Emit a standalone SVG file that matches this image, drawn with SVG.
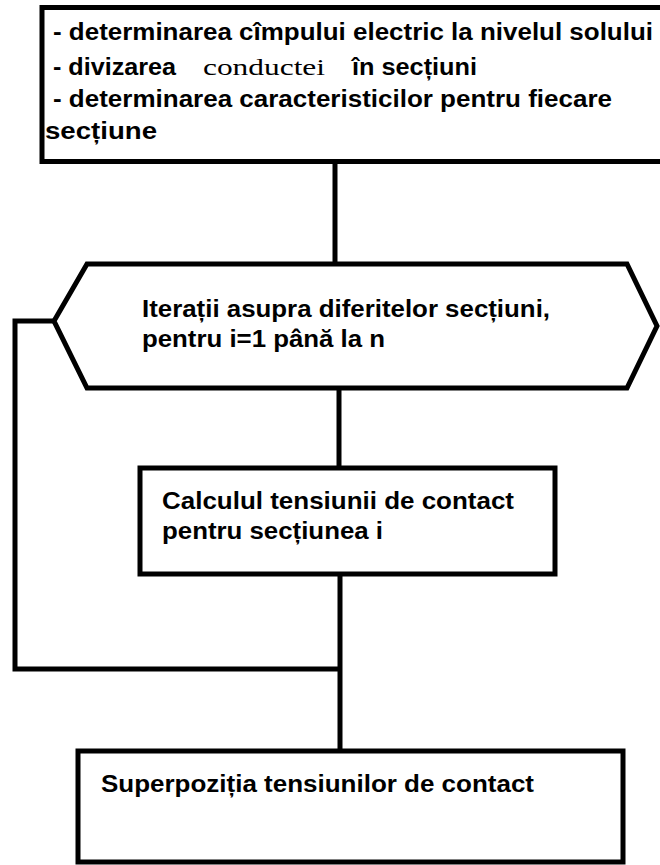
<svg xmlns="http://www.w3.org/2000/svg" width="660" height="865" viewBox="0 0 660 865">
<style>
.shape{fill:#fff;stroke:#000;stroke-width:5;stroke-linejoin:miter}
.conn{fill:none;stroke:#000;stroke-width:5;stroke-linejoin:miter}
.t{font-family:"Liberation Sans",Arial,sans-serif;font-weight:bold;font-size:23px;fill:#000}
.s{font-family:"Liberation Serif","Times New Roman",serif;font-size:24px;fill:#000}
</style>
<rect width="660" height="865" fill="#fff"/>
<g id="connectors">
<path class="conn" d="M335,162 V264"/>
<path class="conn" d="M339,388 V468"/>
<path class="conn" d="M340,574 V751"/>
<path class="conn" d="M54,321 H15 V669 H340"/>
</g>
<g id="node-init">
<rect class="shape" x="42" y="7.5" width="640" height="154"/>
<text class="t" x="53" y="40" textLength="600" lengthAdjust="spacingAndGlyphs">- determinarea cîmpului electric la nivelul solului</text>
<text class="t" x="53" y="75" textLength="123" lengthAdjust="spacingAndGlyphs">- divizarea</text>
<text class="s" x="203" y="75" textLength="122" lengthAdjust="spacingAndGlyphs">conductei</text>
<text class="t" x="352" y="75" textLength="125" lengthAdjust="spacingAndGlyphs">în secțiuni</text>
<text class="t" x="53" y="107" textLength="559" lengthAdjust="spacingAndGlyphs">- determinarea caracteristicilor pentru fiecare</text>
<text class="t" x="45" y="139" textLength="112" lengthAdjust="spacingAndGlyphs">secțiune</text>
</g>
<g id="node-loop">
<polygon class="shape" points="87,264 627,264 657,326 627,388 87,388 54,321"/>
<text class="t" x="142" y="317" textLength="408" lengthAdjust="spacingAndGlyphs">Iterații asupra diferitelor secțiuni,</text>
<text class="t" x="142" y="347" textLength="243" lengthAdjust="spacingAndGlyphs">pentru i=1 până la n</text>
</g>
<g id="node-calc">
<rect class="shape" x="140" y="468" width="415" height="106"/>
<text class="t" x="162" y="509" textLength="352" lengthAdjust="spacingAndGlyphs">Calculul tensiunii de contact</text>
<text class="t" x="162" y="539" textLength="221" lengthAdjust="spacingAndGlyphs">pentru secțiunea i</text>
</g>
<g id="node-sum">
<rect class="shape" x="78" y="751" width="545" height="111"/>
<text class="t" x="101" y="792" textLength="433" lengthAdjust="spacingAndGlyphs">Superpoziția tensiunilor de contact</text>
</g>
</svg>
